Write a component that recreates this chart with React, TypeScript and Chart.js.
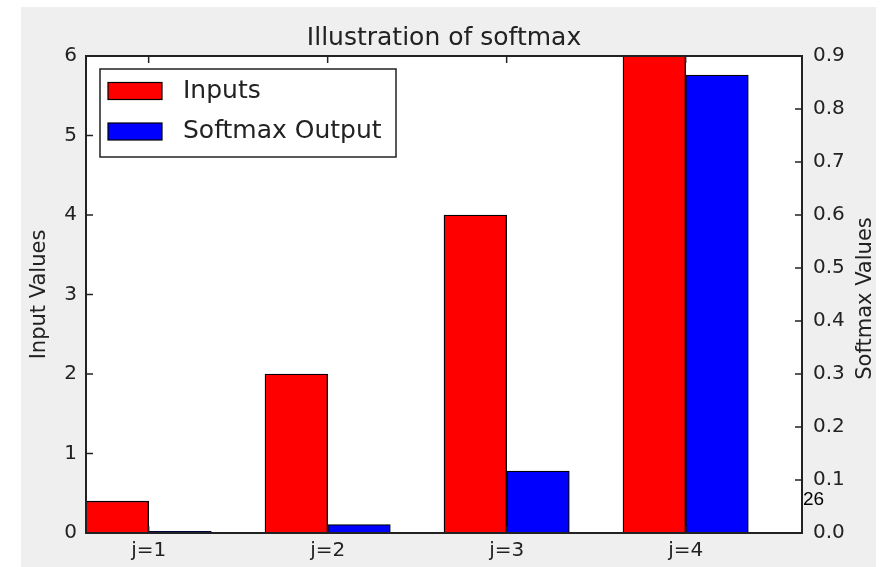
import { useEffect, useRef } from "react";
import { Chart, registerables } from "chart.js";

Chart.register(...registerables);

// Data
const categories = ["j=1", "j=2", "j=3", "j=4"];
const inputValues = [0.4, 2, 4, 6];
const softmaxValues = [0.0032, 0.0158, 0.117, 0.864];
const inputTicks = [0, 1, 2, 3, 4, 5, 6];
const softmaxTicks = [0, 0.1, 0.2, 0.3, 0.4, 0.5, 0.6, 0.7, 0.8, 0.9];

const seriesNames = ["Inputs", "Softmax Output"];
const seriesColors = ["#ff0000", "#0000ff"];

const chartTitle = "Illustration of softmax";
const leftAxisTitle = "Input Values";
const rightAxisTitle = "Softmax Values";
const pageNumber = "26";

// Bars sit side by side, each BAR_WIDTH wide, starting at the category index
const BAR_WIDTH = 0.35;

const FONT = "'DejaVu Sans', sans-serif";
const INK = "#222222";
const TICK_LEN = 7;

const decorations = {
  id: "decorations",
  beforeDraw(chart: any) {
    const { ctx, chartArea: a } = chart;
    ctx.save();
    ctx.fillStyle = "#efefef";
    ctx.fillRect(21, 7, 855, 560);
    ctx.fillStyle = "#ffffff";
    ctx.fillRect(a.left, a.top, a.right - a.left, a.bottom - a.top);
    ctx.restore();
  },
  afterDatasetsDraw(chart: any) {
    const { ctx, chartArea: a, scales } = chart;
    ctx.save();
    const line = (x1: number, y1: number, x2: number, y2: number) => {
      ctx.beginPath();
      ctx.moveTo(x1, y1);
      ctx.lineTo(x2, y2);
      ctx.stroke();
    };
    ctx.strokeStyle = INK;
    ctx.lineWidth = 1.5;
    for (const t of scales.x.ticks) {
      const px = scales.x.getPixelForValue(t.value);
      line(px, a.bottom, px, a.bottom - TICK_LEN);
      line(px, a.top, px, a.top + TICK_LEN);
    }
    for (const t of scales.y.ticks) {
      const py = scales.y.getPixelForValue(t.value);
      line(a.left, py, a.left + TICK_LEN, py);
    }
    for (const t of scales.y1.ticks) {
      const py = scales.y1.getPixelForValue(t.value);
      line(a.right, py, a.right - TICK_LEN, py);
    }
    // axes frame
    ctx.lineWidth = 2;
    ctx.strokeRect(a.left, a.top, a.right - a.left, a.bottom - a.top);

    // legend box in the upper left corner
    const bx = a.left + 14;
    const by = a.top + 13;
    const bw = 296;
    const bh = 88;
    ctx.fillStyle = "#ffffff";
    ctx.fillRect(bx, by, bw, bh);
    ctx.lineWidth = 1.5;
    ctx.strokeRect(bx, by, bw, bh);
    ctx.font = `25px ${FONT}`;
    ctx.textBaseline = "middle";
    ctx.textAlign = "left";
    chart.data.datasets.forEach((ds: any, i: number) => {
      const cy = by + 22 + i * 40.5;
      ctx.fillStyle = ds.backgroundColor;
      ctx.fillRect(bx + 8, cy - 8.5, 54, 17);
      ctx.lineWidth = 1.2;
      ctx.strokeStyle = "#000";
      ctx.strokeRect(bx + 8, cy - 8.5, 54, 17);
      ctx.fillStyle = INK;
      ctx.fillText(ds.label, bx + 83, cy);
    });
    ctx.restore();
  },
  afterDraw(chart: any) {
    const { ctx, chartArea: a } = chart;
    ctx.save();
    ctx.fillStyle = INK;
    ctx.textAlign = "center";
    ctx.textBaseline = "alphabetic";
    ctx.font = `25px ${FONT}`;
    ctx.fillText(chartTitle, (a.left + a.right) / 2, a.top - 11);

    ctx.font = `21px ${FONT}`;
    ctx.textBaseline = "middle";
    const midY = (a.top + a.bottom) / 2;
    ctx.save();
    ctx.translate(a.left - 46, midY);
    ctx.rotate(-Math.PI / 2);
    ctx.fillText(leftAxisTitle, 0, 0);
    ctx.restore();
    ctx.save();
    ctx.translate(a.right + 64, midY + 4);
    ctx.rotate(-Math.PI / 2);
    ctx.fillText(rightAxisTitle, 0, 0);
    ctx.restore();

    ctx.fillStyle = "#000";
    ctx.textAlign = "left";
    ctx.textBaseline = "alphabetic";
    ctx.font = "19px 'Liberation Sans', Arial, sans-serif";
    ctx.fillText(pageNumber, a.right + 1, a.bottom - 28);
    ctx.restore();
  },
};

export default function App() {
  const canvasRef = useRef<HTMLCanvasElement | null>(null);

  useEffect(() => {
    const canvas = canvasRef.current;
    if (!canvas) return;
    const chart = new Chart(canvas, {
      type: "bar",
      data: {
        datasets: [
          {
            label: seriesNames[0],
            data: inputValues.map((v, i) => ({ x: i + BAR_WIDTH / 2, y: v })),
            backgroundColor: seriesColors[0],
            borderColor: "#000",
            borderWidth: 1.3,
            yAxisID: "y",
            grouped: false,
            barPercentage: 1,
            categoryPercentage: 1,
          },
          {
            label: seriesNames[1],
            data: softmaxValues.map((v, i) => ({ x: i + BAR_WIDTH * 1.5, y: v })),
            backgroundColor: seriesColors[1],
            borderColor: "#000",
            borderWidth: 1.3,
            yAxisID: "y1",
            grouped: false,
            barPercentage: 1,
            categoryPercentage: 1,
          },
        ],
      },
      options: {
        responsive: false,
        animation: false,
        layout: { padding: { top: 56, left: 0, right: 0, bottom: 0 } },
        plugins: {
          legend: { display: false },
          title: { display: false },
          tooltip: { enabled: false },
        },
        scales: {
          x: {
            type: "linear",
            min: 0,
            max: categories.length,
            offset: false,
            grid: { display: false, drawTicks: false, offset: false },
            border: { display: false },
            afterBuildTicks: (s: any) => {
              s.ticks = categories.map((_, i) => ({ value: i + BAR_WIDTH }));
            },
            afterFit: (s: any) => {
              s.height = 34;
            },
            ticks: {
              autoSkip: false,
              maxRotation: 0,
              padding: 6,
              color: INK,
              font: { family: FONT, size: 20 },
              callback: (_v: any, i: number) => categories[i],
            },
          },
          y: {
            position: "left",
            min: 0,
            max: 6,
            grid: { display: false, drawTicks: false },
            border: { display: false },
            afterBuildTicks: (s: any) => {
              s.ticks = inputTicks.map((v) => ({ value: v }));
            },
            afterFit: (s: any) => {
              s.width = 86;
            },
            ticks: {
              padding: 9,
              color: INK,
              font: { family: FONT, size: 20 },
              callback: (v: any) => String(v),
            },
          },
          y1: {
            position: "right",
            min: 0,
            max: 0.9,
            grid: { display: false, drawTicks: false },
            border: { display: false },
            afterBuildTicks: (s: any) => {
              s.ticks = softmaxTicks.map((v) => ({ value: v }));
            },
            afterFit: (s: any) => {
              s.width = 92;
            },
            ticks: {
              padding: 11,
              color: INK,
              font: { family: FONT, size: 20 },
              callback: (v: any) => Number(v).toFixed(1),
            },
          },
        },
      } as any,
      plugins: [decorations],
    });
    return () => chart.destroy();
  }, []);

  return (
    <div
      style={{
        position: "absolute",
        left: 0,
        top: 0,
        width: 894,
        height: 567,
        background: "#ffffff",
      }}
    >
      <canvas ref={canvasRef} width={894} height={567} />
    </div>
  );
}
